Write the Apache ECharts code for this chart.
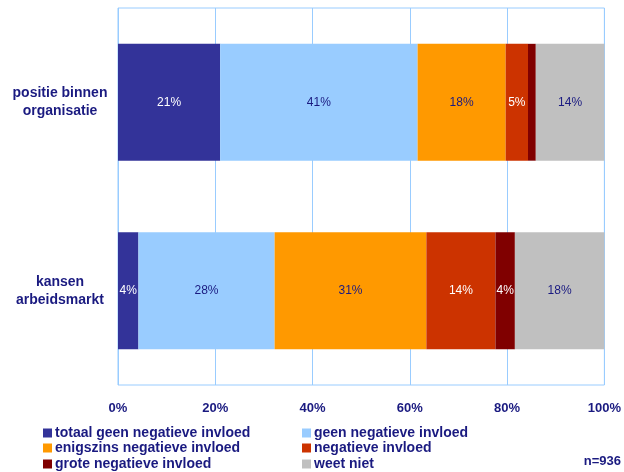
<!DOCTYPE html>
<html><head><meta charset="utf-8">
<script src="https://cdn.jsdelivr.net/npm/echarts@6/dist/echarts.min.js"></script>
<style>html,body{margin:0;padding:0;background:#fff}#c{width:624px;height:472px}</style>
</head><body><div id="c"></div>
<script>
var categories = ['positie binnen\norganisatie', 'kansen\narbeidsmarkt'];
var seriesNames = ['totaal geen negatieve invloed', 'geen negatieve invloed', 'enigszins negatieve invloed', 'negatieve invloed', 'grote negatieve invloed', 'weet niet'];
var totaalGeen = [21.0, 4.2];
var geen = [40.6, 28.0];
var enigszins = [18.1, 31.2];
var negatief = [4.6, 14.2];
var groot = [1.6, 4.0];
var weetNiet = [14.1, 18.4];
var xTicks = [0, 20, 40, 60, 80, 100];

var values = [totaalGeen, geen, enigszins, negatief, groot, weetNiet];
var colors = ['#333399', '#99CCFF', '#FF9900', '#CC3300', '#800000', '#C0C0C0'];
var labelColors = ['#ffffff', '#1a1a80', '#1a1a80', '#ffffff', '#ffffff', '#1a1a80'];
var navy = '#1a1a80';

var series = seriesNames.map(function (n, i) {
  return {
    name: n, type: 'bar', stack: 'all', data: values[i], barWidth: '62%',
    itemStyle: { color: colors[i] },
    label: {
      show: true, position: 'inside', color: labelColors[i], fontSize: 12,
      fontFamily: 'Liberation Sans',
      formatter: function (p) { return p.value < 2 ? '' : Math.round(p.value) + '%'; }
    }
  };
});

var legendPos = [[43, 426], [302, 426], [43, 441], [302, 441], [43, 457], [302, 457]];
var legends = seriesNames.map(function (n, i) {
  return {
    data: [n], orient: 'horizontal', left: legendPos[i][0], top: legendPos[i][1],
    itemWidth: 9, itemHeight: 9, icon: 'rect', padding: [0, 0, 0, 0],
    textStyle: { color: navy, fontWeight: 'bold', fontSize: 14, fontFamily: 'Liberation Sans', padding: [0, 0, 0, -2] }
  };
});

var chart = echarts.init(document.getElementById('c'));
chart.setOption({
  animation: false,
  grid: { left: 118, right: 19, top: 8, bottom: 87, show: true, borderColor: '#99CCFF', borderWidth: 1 },
  xAxis: {
    type: 'value', min: xTicks[0], max: xTicks[xTicks.length - 1], interval: 20,
    axisLine: { show: false }, axisTick: { show: false },
    splitLine: { show: true, lineStyle: { color: '#99CCFF', width: 1 } },
    axisLabel: { formatter: '{value}%', color: navy, fontWeight: 'bold', fontSize: 13, fontFamily: 'Liberation Sans', margin: 17 }
  },
  yAxis: {
    type: 'category', data: categories, inverse: true,
    axisLine: { show: false }, axisTick: { show: false },
    axisLabel: { color: navy, fontWeight: 'bold', fontSize: 14, fontFamily: 'Liberation Sans', align: 'center', margin: 58, lineHeight: 18 }
  },
  legend: legends,
  graphic: [{ type: 'text', right: 3, top: 455,
    style: { text: 'n=936', fill: navy, font: 'bold 13px Liberation Sans' } }],
  series: series
});
</script></body></html>
